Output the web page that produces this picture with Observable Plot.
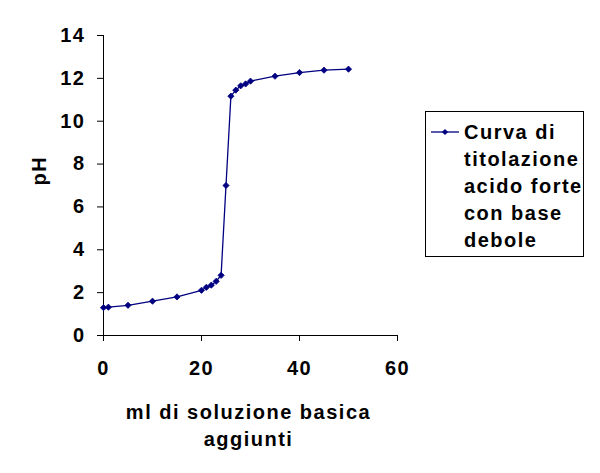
<!DOCTYPE html>
<html>
<head>
<meta charset="utf-8">
<script src="https://cdn.jsdelivr.net/npm/d3@7"></script>
<script src="https://cdn.jsdelivr.net/npm/@observablehq/plot@0.6"></script>
<style>
  html, body { margin: 0; padding: 0; background: #fff; }
  #wrap { position: relative; width: 600px; height: 473px; font-family: "Liberation Sans", Arial, sans-serif; }
  #legend { position: absolute; left: 425px; top: 111px; width: 159px; height: 146px; box-sizing: border-box;
            border: 1px solid #000; background: #fff; }
  #legend .sample { position: absolute; left: 4px; top: 14px; }
  #legend .lines { position: absolute; left: 38px; top: 7px; font-weight: bold; font-size: 20px; letter-spacing: 1.5px; color: #000; }
  #legend .lines div { height: 27px; line-height: 27px; white-space: nowrap; }
</style>
</head>
<body>
<div id="wrap"></div>
<script>
// Data
const mlAdded = [0, 1, 5, 10, 15, 20, 21, 22, 23, 24, 25, 26, 27, 28, 29, 30, 35, 40, 45, 50];
const pHValues = [1.30, 1.32, 1.41, 1.60, 1.80, 2.11, 2.25, 2.35, 2.53, 2.81, 7.00, 11.17, 11.45, 11.65, 11.74, 11.87, 12.10, 12.27, 12.38, 12.43];
const xTicks = [0, 20, 40, 60];
const yTicks = [0, 2, 4, 6, 8, 10, 12, 14];
const xLabel = "ml di soluzione basica\naggiunti";
const yLabel = "pH";
const seriesNameLines = ["Curva di", "titolazione", "acido forte", "con base", "debole"];

const data = mlAdded.map((x, i) => ({x, y: pHValues[i]}));
const navy = "#000080";

const chart = Plot.plot({
  width: 600,
  height: 473,
  marginLeft: 103,
  marginRight: 203,
  marginTop: 35,
  marginBottom: 138,
  style: {fontFamily: "'Liberation Sans', Arial, sans-serif", fontWeight: "bold", fontSize: "20px", letterSpacing: "1.5px", color: "#000", background: "#fff"},
  x: {domain: [0, 60]},
  y: {domain: [0, 14]},
  marks: [
    Plot.axisX({ticks: xTicks, tickSize: 6, tickPadding: 19, label: null, fontSize: 20, fontWeight: "bold"}),
    Plot.axisY({ticks: yTicks, tickSize: 6, tickPadding: 12, label: null, fontSize: 20, fontWeight: "bold"}),
    Plot.ruleX([0], {stroke: "#000"}),
    Plot.ruleY([0], {stroke: "#000"}),
    Plot.line(data, {x: "x", y: "y", stroke: navy, strokeWidth: 1.3}),
    Plot.dot(data, {x: "x", y: "y", symbol: "diamond2", r: 2.8, fill: navy, stroke: navy, strokeWidth: 0.8}),
    Plot.text([yLabel], {frameAnchor: "left", dx: -64, rotate: -90, fontSize: 20, fontWeight: "bold", fill: "#000"}),
    Plot.text([xLabel], {frameAnchor: "bottom", lineAnchor: "middle", dy: 88, dx: -2, lineHeight: 1.35, fontSize: 20, fontWeight: "bold", fill: "#000"})
  ]
});
document.getElementById("wrap").appendChild(chart);

// Legend (HTML, overlaid to the right of the plot)
const legend = d3.select("#wrap").append("div").attr("id", "legend");
const sample = legend.append("svg").attr("class", "sample").attr("width", 32).attr("height", 12);
sample.append("line").attr("x1", 1).attr("x2", 29).attr("y1", 6).attr("y2", 6).attr("stroke", navy).attr("stroke-width", 1.3);
sample.append("path").attr("d", d3.symbol(d3.symbolDiamond2, Math.PI * 2.8 * 2.8)()).attr("transform", "translate(15,6)").attr("fill", navy);
legend.append("div").attr("class", "lines").selectAll("div").data(seriesNameLines).join("div").text(d => d);
</script>
</body>
</html>
